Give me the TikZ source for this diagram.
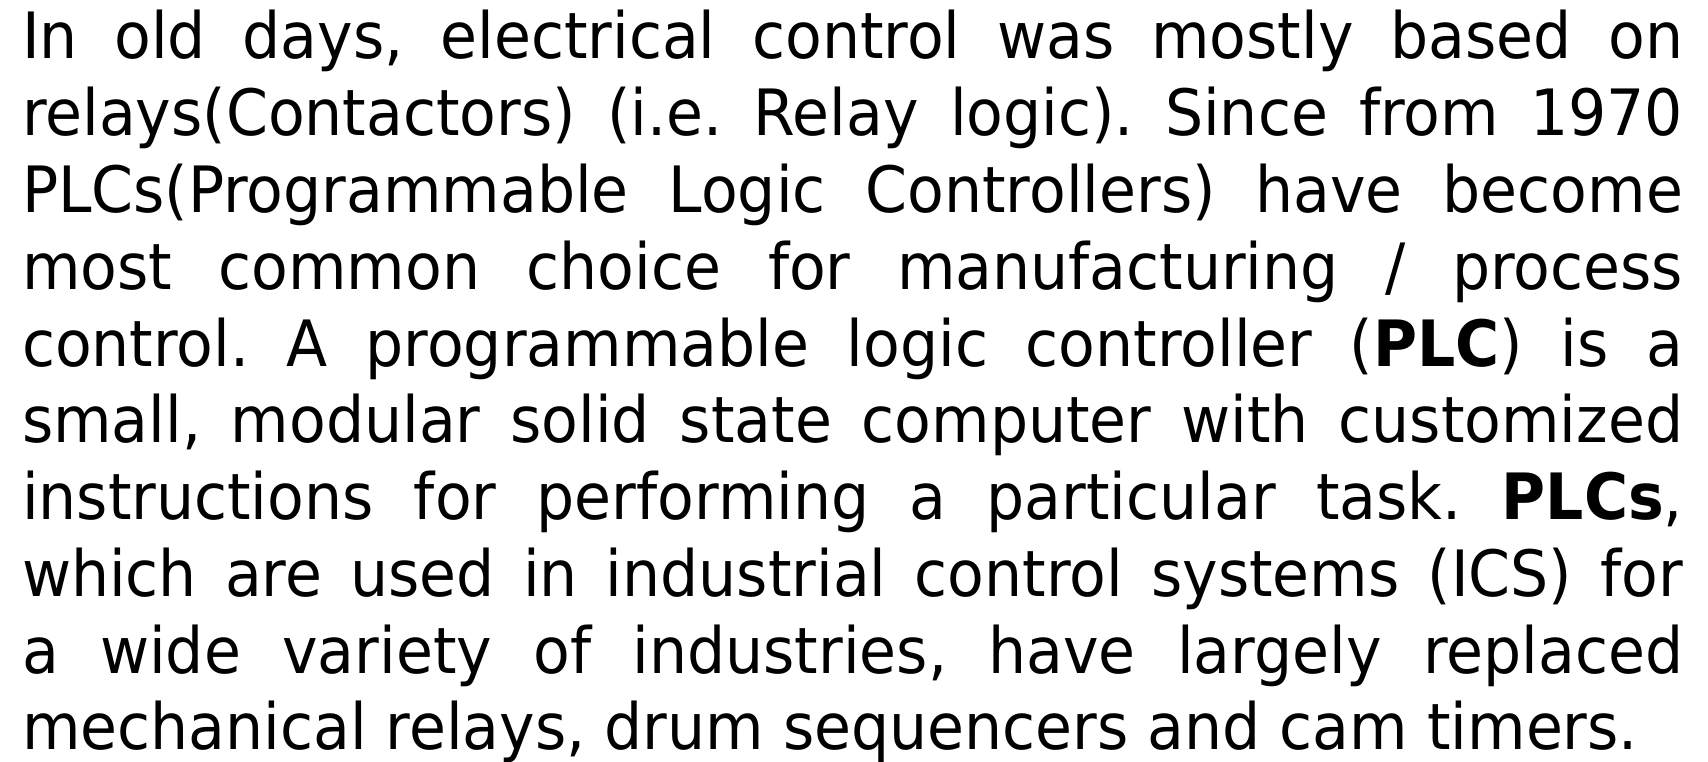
\documentclass[tikz,border=0pt]{standalone}
\usepackage{fontspec}
\setmainfont{DejaVu Sans}[FakeStretch=0.94]
\frenchspacing
\newcommand\jline[1]{\makebox[830.5pt][s]{#1}}
\begin{document}
\begin{tikzpicture}[x=1pt,y=1pt,
  txtline/.style={anchor=base west, inner sep=0pt, outer sep=0pt, font=\fontsize{31.95}{38.4}\selectfont\frenchspacing}]
\useasboundingbox (0,0) rectangle (854,380.5);
\node[txtline] (l1) at (11,351.0) {\jline{In old days, electrical control was mostly based on}};
\node[txtline] (l2) at (11,312.6) {\jline{relays(Contactors) (i.e. Relay logic). Since from 1970}};
\node[txtline] (l3) at (11,274.2) {\jline{PLCs(Programmable Logic Controllers) have become}};
\node[txtline] (l4) at (11,235.8) {\jline{most common choice for manufacturing / process}};
\node[txtline] (l5) at (11,197.4) {\jline{control. A programmable logic controller (\textbf{PLC}) is a}};
\node[txtline] (l6) at (11,159.0) {\jline{small, modular solid state computer with customized}};
\node[txtline] (l7) at (11,120.6) {\jline{instructions for performing a particular task. \textbf{PLCs},}};
\node[txtline] (l8) at (11,82.2) {\jline{which are used in industrial control systems (ICS) for}};
\node[txtline] (l9) at (11,43.8) {\jline{a wide variety of industries, have largely replaced}};
\node[txtline] (l10) at (11,5.6) {mechanical relays, drum sequencers and cam timers.};
\end{tikzpicture}
\end{document}
